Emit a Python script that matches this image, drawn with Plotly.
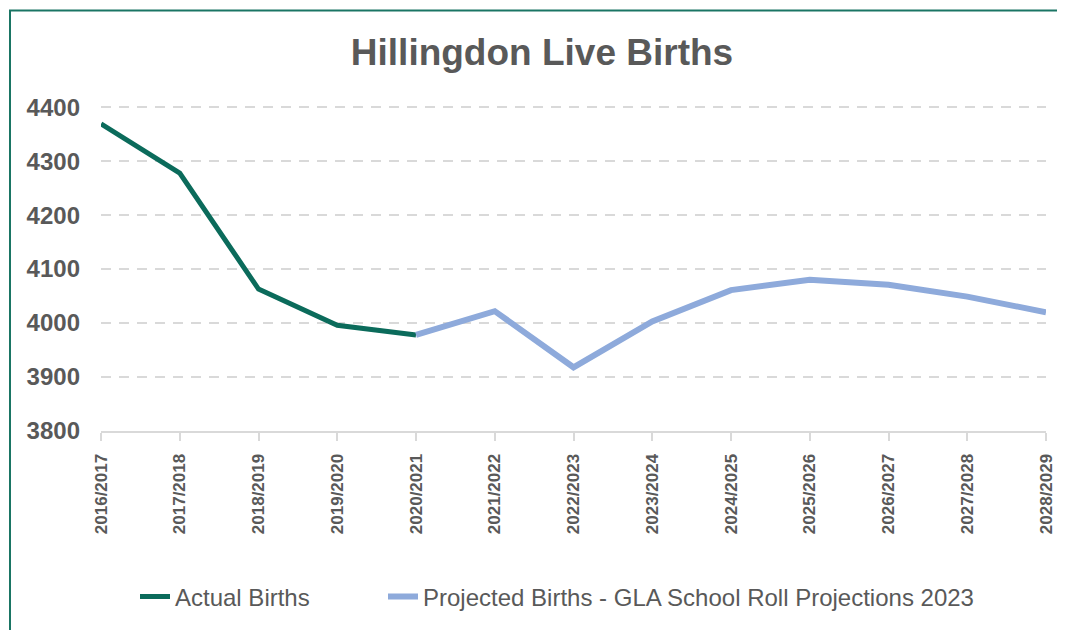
import plotly.graph_objects as go

categories = ["2016/2017", "2017/2018", "2018/2019", "2019/2020", "2020/2021",
              "2021/2022", "2022/2023", "2023/2024", "2024/2025", "2025/2026",
              "2026/2027", "2027/2028", "2028/2029"]
actual_births = [4369, 4278, 4063, 3996, 3978, None, None, None, None, None, None, None, None]
projected_births = [None, None, None, None, 3978, 4022, 3918, 4003, 4061, 4080, 4071, 4049, 4020]
y_ticks = [3800, 3900, 4000, 4100, 4200, 4300, 4400]

FONT = "Arial, 'Liberation Sans', sans-serif"
GREY = "#595959"

x_idx = list(range(len(categories)))

fig = go.Figure()
fig.add_trace(go.Scatter(
    x=x_idx, y=actual_births, mode="lines", name="Actual Births",
    line=dict(color="#0B6B5B", width=5), connectgaps=False, legend="legend",
))
fig.add_trace(go.Scatter(
    x=x_idx, y=projected_births, mode="lines",
    name="Projected Births - GLA School Roll Projections 2023",
    line=dict(color="#8EAADB", width=6), connectgaps=False, legend="legend2",
))

# page has an 8px body margin, so the figure is sized/positioned accordingly
W, H = 1057, 622
L, R, T, B = 93, 19, 97, 199
pw, ph = W - L - R, H - T - B
bottom_px = H - B

def px_x(p):
    return (p - L) / pw

def px_y(p):
    return (bottom_px - p) / ph

leg_common = dict(orientation="h", yanchor="middle", y=px_y(589), xanchor="left",
                  font=dict(size=24, color=GREY, family=FONT),
                  itemwidth=30, bgcolor="rgba(0,0,0,0)")

fig.update_layout(
    width=W, height=H,
    margin=dict(l=L, r=R, t=T, b=B, autoexpand=False),
    paper_bgcolor="white", plot_bgcolor="white",
    font=dict(family=FONT, color=GREY),
    title=dict(text="<b>Hillingdon Live Births</b>", x=534 / W, xanchor="center",
               y=1 - 44 / H, yanchor="middle",
               font=dict(size=37, color=GREY, family=FONT)),
    showlegend=True,
    legend=dict(x=px_x(127), **leg_common),
    legend2=dict(x=px_x(375), **leg_common),
    xaxis=dict(
        range=[0, len(categories) - 1], automargin=False,
        tickvals=x_idx, ticktext=[f"<b>{c}</b>" for c in categories],
        tickangle=-90, tickfont=dict(size=17, color=GREY, family=FONT),
        showgrid=False, zeroline=False,
        showline=True, linecolor="#D9D9D9", linewidth=2,
        ticks="outside", ticklen=8, tickcolor="#D9D9D9", tickwidth=2,
        ticklabelstandoff=6,
    ),
    yaxis=dict(
        range=[3800, 4404], tickvals=y_ticks, automargin=False,
        ticktext=[f"<b>{v}</b>" for v in y_ticks],
        tickfont=dict(size=24, color=GREY, family=FONT),
        showgrid=True, gridcolor="#D9D9D9", gridwidth=2, griddash="10px,8px",
        zeroline=False, showline=False, ticks="", ticklabelstandoff=20,
    ),
)

# teal container border (cropped at right and bottom)
fig.add_shape(type="rect", xref="paper", yref="paper",
              x0=px_x(2), x1=px_x(W + 20),
              y0=px_y(H + 20), y1=px_y(2.5),
              line=dict(color="#1A7564", width=2), fillcolor="rgba(0,0,0,0)",
              layer="below")

fig.write_html("out.html")
